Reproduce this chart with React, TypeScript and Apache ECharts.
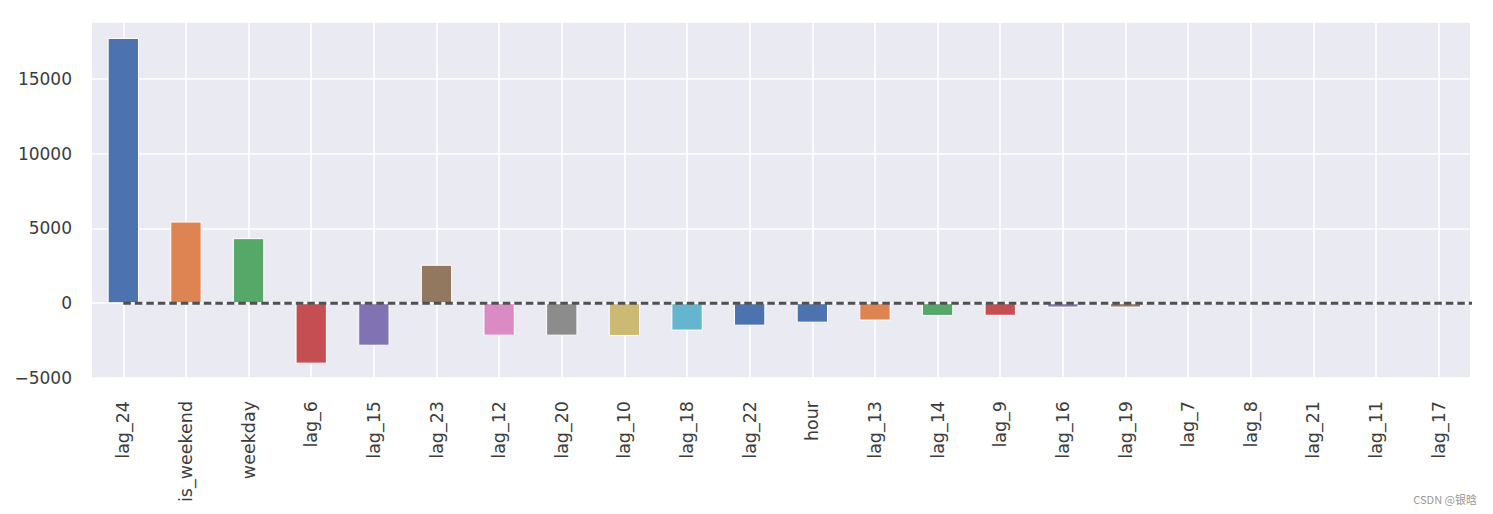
import React, { useEffect, useRef } from "react";
import * as echarts from "echarts";

const categories = [
  "lag_24", "is_weekend", "weekday", "lag_6", "lag_15", "lag_23", "lag_12", "lag_20",
  "lag_10", "lag_18", "lag_22", "hour", "lag_13", "lag_14", "lag_9", "lag_16",
  "lag_19", "lag_7", "lag_8", "lag_21", "lag_11", "lag_17",
];
const values = [
  17730, 5460, 4350, -4040, -2840, 2570, -2170, -2170,
  -2190, -1830, -1500, -1300, -1160, -850, -840, -290,
  -290, 0, 0, 0, 0, 0,
];
const barColors = [
  "#4C72B0", "#DD8452", "#55A868", "#C44E52", "#8172B3", "#937860", "#DA8BC3", "#8C8C8C",
  "#CCB974", "#64B5CD", "#4C72B0", "#4C72B0", "#DD8452", "#55A868", "#C44E52", "#8172B3",
  "#937860", "#DA8BC3", "#8C8C8C", "#CCB974", "#64B5CD", "#4C72B0",
];
const yMin = -5000;
const yMax = 18800;
const yInterval = 5000;
const refLine = [[0, 0], [categories.length, 0]];

export default function App() {
  const ref = useRef<HTMLDivElement>(null);
  useEffect(() => {
    document.body.style.margin = "0";
    const chart = echarts.init(ref.current!, undefined, { renderer: "svg" });
    const font = "DejaVu Sans";
    chart.setOption({
      animation: false,
      backgroundColor: "#ffffff",
      textStyle: { fontFamily: font },
      grid: { left: 92, right: 23, top: 22, bottom: 136, backgroundColor: "#EAEAF2", show: true, borderWidth: 0 },
      xAxis: [
        {
          type: "category",
          data: categories,
          boundaryGap: true,
          axisLine: { show: false },
          axisTick: { show: false },
          axisLabel: { rotate: 90, margin: 23, fontSize: 17.5, color: "#3c3c3c", fontFamily: font, interval: 0 },
          splitLine: { show: true, alignWithLabel: true, lineStyle: { color: "#ffffff", width: 1.5 } },
        },
        {
          type: "value",
          min: -0.5,
          max: categories.length - 0.5,
          show: false,
          splitLine: { show: false },
        },
      ],
      yAxis: {
        type: "value",
        min: yMin,
        max: yMax,
        interval: yInterval,
        axisLine: { show: false },
        axisTick: { show: false },
        axisLabel: {
          margin: 20,
          fontSize: 17,
          color: "#3c3c3c",
          fontFamily: font,
          formatter: (v: number) => (v > yMax - 1 ? "" : String(v).replace("-", "\u2212")),
        },
        splitLine: { show: true, lineStyle: { color: "#ffffff", width: 1.5 } },
      },
      series: [
        {
          type: "bar",
          xAxisIndex: 0,
          barWidth: "50%",
          z: 2,
          data: values.map((v, i) => ({
            value: v,
            itemStyle: { color: barColors[i], borderColor: "#ffffff", borderWidth: 1 },
          })),
        },
        {
          type: "line",
          xAxisIndex: 1,
          z: 5,
          symbol: "none",
          clip: true,
          data: refLine,
          lineStyle: { color: "#505050", width: 3, type: [7.5, 4] },
        },
      ],
      graphic: [
        {
          type: "text",
          right: 16,
          bottom: 10,
          style: { text: "CSDN @银晗", fill: "#999999", fontSize: 11, fontFamily: "Noto Sans CJK SC" },
        },
      ],
    });
    return () => chart.dispose();
  }, []);
  return <div ref={ref} style={{ width: 1493, height: 514 }} />;
}
